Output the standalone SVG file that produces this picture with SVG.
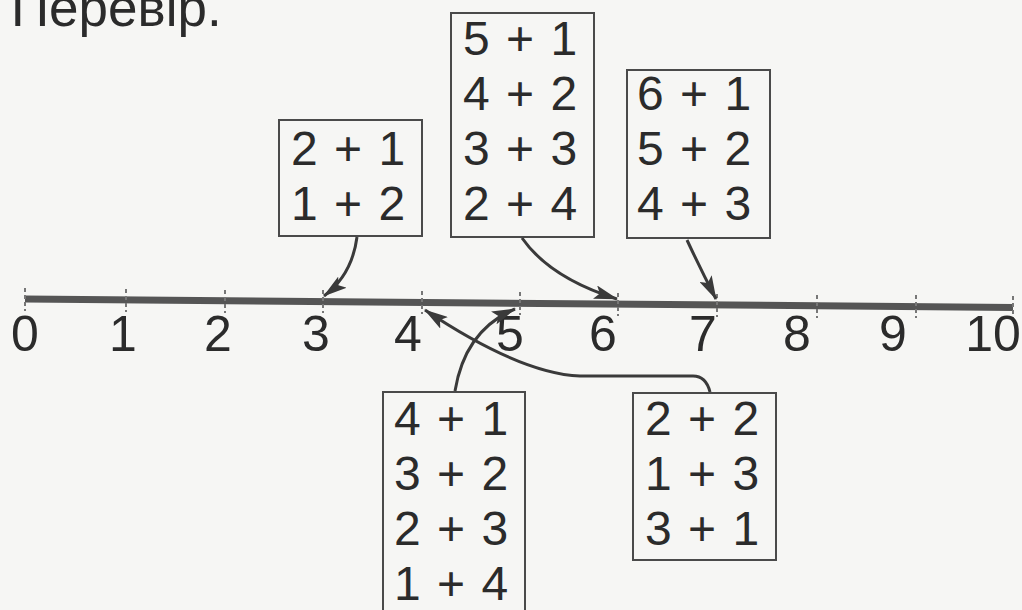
<svg xmlns="http://www.w3.org/2000/svg" width="1022" height="610" viewBox="0 0 1022 610">
  <defs>
    <style>
      .bg { fill: #f6f6f4; }
      .box { fill: none; stroke: #4a4a4a; stroke-width: 2; }
      .expr { font-family: "Liberation Sans", Arial, sans-serif; font-size: 48px; fill: #2b2b2b; word-spacing: 3px; }
      .lbl { font-family: "Liberation Sans", Arial, sans-serif; font-size: 50px; fill: #2b2b2b; text-anchor: middle; }
      .title { font-family: "Liberation Sans", Arial, sans-serif; font-size: 53px; fill: #2b2b2b; }
      .axis { stroke: #555; stroke-width: 7; stroke-linecap: butt; }
      .tick { stroke: #777; stroke-width: 2; stroke-dasharray: 4 3; }
      .arrow { fill: none; stroke: #3a3a3a; stroke-width: 3; marker-end: url(#ah); }
    </style>
    <marker id="ah" viewBox="0 0 24 14" refX="23" refY="7" markerWidth="24" markerHeight="14" markerUnits="userSpaceOnUse" orient="auto">
      <path d="M0,0 L24,7 L0,14 L5,7 Z" fill="#3a3a3a"/>
    </marker>
  </defs>
  <rect class="bg" x="0" y="0" width="1022" height="610"/>

  <text class="title" x="11" y="26">Перевір.</text>

  <g id="axis">
    <line class="axis" x1="25" y1="299" x2="1013" y2="307.5"/>
    <line class="tick" x1="25" y1="288" x2="25" y2="311"/>
    <line class="tick" x1="126" y1="289" x2="126" y2="312"/>
    <line class="tick" x1="225" y1="290" x2="225" y2="313"/>
    <line class="tick" x1="323" y1="290" x2="323" y2="313"/>
    <line class="tick" x1="422" y1="291" x2="422" y2="314"/>
    <line class="tick" x1="520" y1="292" x2="520" y2="315"/>
    <line class="tick" x1="618" y1="293" x2="618" y2="316"/>
    <line class="tick" x1="717" y1="294" x2="717" y2="317"/>
    <line class="tick" x1="817" y1="295" x2="817" y2="318"/>
    <line class="tick" x1="916" y1="295" x2="916" y2="318"/>
    <line class="tick" x1="1013" y1="296" x2="1013" y2="319"/>
    <text class="lbl" x="25" y="351">0</text>
    <text class="lbl" x="123" y="351">1</text>
    <text class="lbl" x="218" y="351">2</text>
    <text class="lbl" x="316" y="351">3</text>
    <text class="lbl" x="408" y="351">4</text>
    <text class="lbl" x="510" y="351">5</text>
    <text class="lbl" x="603" y="351">6</text>
    <text class="lbl" x="703" y="351">7</text>
    <text class="lbl" x="797" y="351">8</text>
    <text class="lbl" x="893" y="351">9</text>
    <text class="lbl" x="993" y="351">10</text>
  </g>

  <g id="box3">
    <rect class="box" x="279" y="120" width="143" height="116"/>
    <text class="expr" x="291" y="165">2 + 1</text>
    <text class="expr" x="291" y="220">1 + 2</text>
  </g>

  <g id="box6">
    <rect class="box" x="451" y="13" width="143" height="224"/>
    <text class="expr" x="463" y="55">5 + 1</text>
    <text class="expr" x="463" y="110">4 + 2</text>
    <text class="expr" x="463" y="165">3 + 3</text>
    <text class="expr" x="463" y="220">2 + 4</text>
  </g>

  <g id="box7">
    <rect class="box" x="627" y="70" width="143" height="168"/>
    <text class="expr" x="637" y="110">6 + 1</text>
    <text class="expr" x="637" y="165">5 + 2</text>
    <text class="expr" x="637" y="220">4 + 3</text>
  </g>

  <g id="box5">
    <rect class="box" x="383" y="392" width="142" height="240"/>
    <text class="expr" x="394" y="435">4 + 1</text>
    <text class="expr" x="394" y="490">3 + 2</text>
    <text class="expr" x="394" y="545">2 + 3</text>
    <text class="expr" x="394" y="600">1 + 4</text>
  </g>

  <g id="box4">
    <rect class="box" x="633" y="393" width="143" height="167"/>
    <text class="expr" x="645" y="435">2 + 2</text>
    <text class="expr" x="645" y="490">1 + 3</text>
    <text class="expr" x="645" y="545">3 + 1</text>
  </g>

  <g id="connectors">
    <path class="arrow" d="M357,237 Q352,275 324,296"/>
    <path class="arrow" d="M522,238 Q550,278 617,299"/>
    <path class="arrow" d="M687,240 Q700,268 716,299"/>
    <path class="arrow" d="M455,391 Q465,330 515,309"/>
    <path class="arrow" d="M710,392 Q706,376 693,376 L580,376 C530,374 470,340 425,310"/>
  </g>
</svg>
